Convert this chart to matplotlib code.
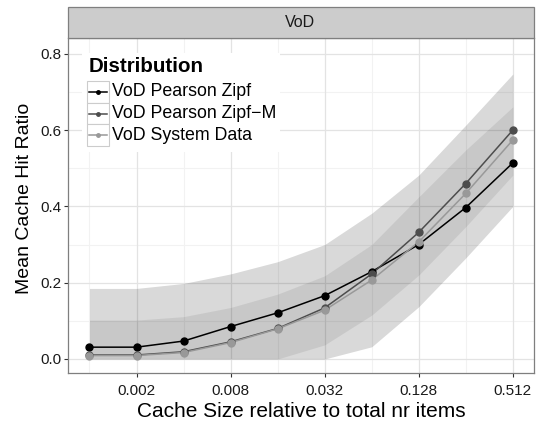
import numpy as np
import matplotlib
matplotlib.use('Agg')
import matplotlib.pyplot as plt
from matplotlib.patches import Rectangle
from matplotlib.lines import Line2D

plt.rcParams['font.family'] = ['Liberation Sans', 'DejaVu Sans']

# data
cache_size = [0.001, 0.002, 0.004, 0.008, 0.016, 0.032, 0.064, 0.128, 0.256, 0.512]
zipf = [0.031, 0.031, 0.047, 0.085, 0.121, 0.166, 0.229, 0.300, 0.397, 0.514]
zipf_m = [0.0105, 0.0105, 0.019, 0.045, 0.080, 0.134, 0.223, 0.332, 0.460, 0.600]
system = [0.009, 0.009, 0.017, 0.043, 0.079, 0.128, 0.207, 0.307, 0.434, 0.574]
outer_lo = [0, 0, 0, 0, 0, 0, 0.032, 0.137, 0.265, 0.400]
outer_hi = [0.185, 0.185, 0.198, 0.223, 0.255, 0.300, 0.382, 0.482, 0.613, 0.747]
inner_lo = [0, 0, 0, 0, 0, 0.037, 0.115, 0.220, 0.347, 0.482]
inner_hi = [0.102, 0.102, 0.111, 0.135, 0.170, 0.218, 0.300, 0.425, 0.548, 0.661]

series_names = ['VoD Pearson Zipf', 'VoD Pearson Zipf\u2212M', 'VoD System Data']
series_vals = [zipf, zipf_m, system]
series_cols = ['#000000', '#4d4d4d', '#999999']
x_ticks = [0.002, 0.008, 0.032, 0.128, 0.512]
x_minor = [0.001, 0.004, 0.016, 0.064, 0.256]
y_ticks = [0.0, 0.2, 0.4, 0.6, 0.8]

W, H = 538, 426
fig = plt.figure(figsize=(W / 100, H / 100), dpi=100)

def fx(px):
    return px / W

def fy(py):
    return 1 - py / H

L, R, T, B = 68.3, 534, 38.3, 373.3
ax = fig.add_axes([fx(L), fy(B), fx(R) - fx(L), fy(T) - fy(B)])
ax.set_xscale('log', base=2)
ax.set_xlim(0.001 * 2 ** -0.45, 0.512 * 2 ** 0.45)
ax.set_ylim(-0.0375, 0.8406)

# grid
for v in x_minor:
    ax.axvline(v, color='#f2f2f2', lw=0.8, zorder=0)
for v in [0.1, 0.3, 0.5, 0.7]:
    ax.axhline(v, color='#f2f2f2', lw=0.8, zorder=0)
for v in x_ticks:
    ax.axvline(v, color='#e3e3e3', lw=0.9, zorder=0)
for v in y_ticks:
    ax.axhline(v, color='#e3e3e3', lw=0.9, zorder=0)

# ribbons
ax.fill_between(cache_size, outer_lo, outer_hi, color='black', alpha=0.15, lw=0, zorder=1)
ax.fill_between(cache_size, inner_lo, inner_hi, color='black', alpha=0.075, lw=0, zorder=1)

for vals, c in zip(series_vals, series_cols):
    ax.plot(cache_size, vals, color=c, lw=1.1, zorder=2)
for vals, c in zip(series_vals, series_cols):
    ax.plot(cache_size, vals, 'o', color=c, ms=5, zorder=3)

ax.set_xticks(x_ticks)
ax.set_xticklabels([str(v) for v in x_ticks])
ax.xaxis.set_minor_locator(matplotlib.ticker.NullLocator())
ax.set_yticks(y_ticks)
ax.set_yticklabels(['%.1f' % v for v in y_ticks])
ax.tick_params(length=3, width=0.8, color='#333333', labelsize=11,
               labelcolor='#1a1a1a', pad=2)
ax.tick_params(axis='x', pad=4.5)
for s in ax.spines.values():
    s.set_color('#7f7f7f')
    s.set_linewidth(0.9)
ax.set_xlabel('Cache Size relative to total nr items', fontsize=15, labelpad=3)
fig.text(fx(25), fy(198.3), 'Mean Cache Hit Ratio', fontsize=14, rotation=90,
         ha='center', va='center')

# facet strip
fig.patches.append(Rectangle((fx(L), fy(T)), fx(R) - fx(L), fy(7.3) - fy(T),
                             transform=fig.transFigure, facecolor='#cccccc',
                             edgecolor='#7f7f7f', lw=0.9))
fig.text(fx(300), fy(22.5), 'VoD', ha='center', va='center',
         fontsize=11.5, color='#1a1a1a')

# legend
fig.patches.append(Rectangle((fx(81.7), fy(152)), fx(280) - fx(81.7), fy(53) - fy(152),
                             transform=fig.transFigure, facecolor='white',
                             edgecolor='none', zorder=5))
fig.text(fx(88.3), fy(66.7), 'Distribution', fontsize=14.8, fontweight='bold',
         ha='left', va='center', zorder=6)
for i, (name, c) in enumerate(zip(series_names, series_cols)):
    cy = 92 + i * 21.6
    fig.patches.append(Rectangle((fx(87.3), fy(cy + 10.8)), fx(109) - fx(87.3),
                                 fy(cy - 10.8) - fy(cy + 10.8),
                                 transform=fig.transFigure, facecolor='white',
                                 edgecolor='#cccccc', lw=0.8, zorder=6))
    fig.lines.append(Line2D([fx(89), fx(107.3)], [fy(cy), fy(cy)], transform=fig.transFigure,
                            color=c, lw=1.1, marker=None, zorder=7))
    fig.lines.append(Line2D([fx(98.2)], [fy(cy)], transform=fig.transFigure,
                            color=c, marker='o', ms=2.5, lw=0, zorder=7))
    fig.text(fx(111.7), fy(cy), name, fontsize=12.8, ha='left', va='center', zorder=7)

fig.savefig('out.png', dpi=100)
